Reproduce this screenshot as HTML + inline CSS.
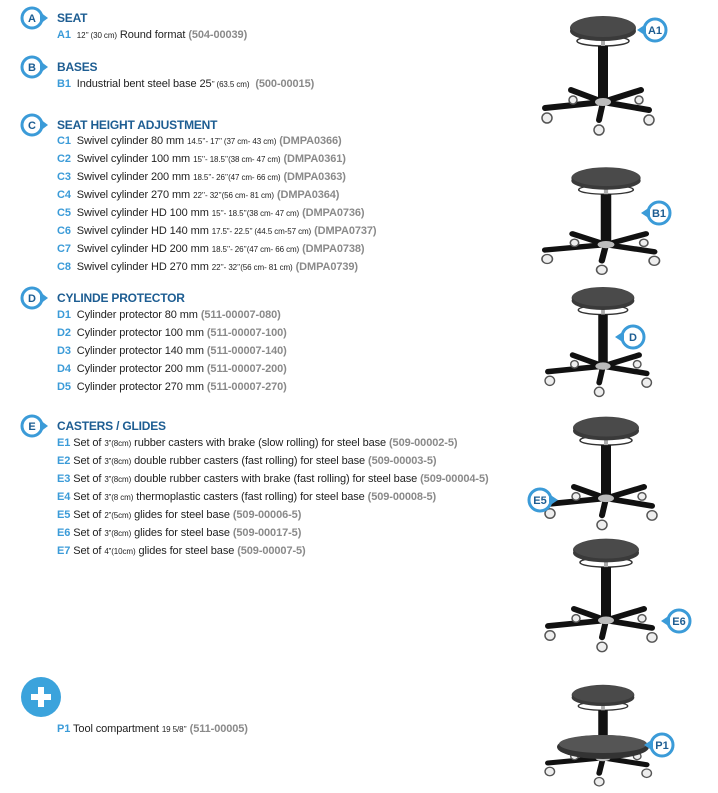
<!DOCTYPE html>
<html><head><meta charset="utf-8"><style>
body{margin:0;width:718px;height:793px;background:#fff;position:relative;overflow:hidden;font-family:"Liberation Sans",sans-serif}
.h{position:absolute;left:57px;font-weight:bold;font-size:12px;color:#1d5d92;letter-spacing:-0.2px}
.i{position:absolute;left:57px;font-size:11px;color:#222;white-space:nowrap;letter-spacing:-0.1px}
.i b{color:#3b9bd8}
.i s{text-decoration:none;font-size:8px}
.i em{font-style:normal;font-weight:bold;color:#8a8a8a}
svg{position:absolute;left:0;top:0}
</style></head><body>
<svg width="718" height="793">
<defs>
<g id="bad"><circle cx="0" cy="0" r="10" fill="#fff" stroke="#3b9bd8" stroke-width="3"/><path d="M8,-6 L16,0 L8,6Z" fill="#3b9bd8"/></g>
<g id="st">
<ellipse cx="0" cy="13" rx="26" ry="5" fill="none" stroke="#333" stroke-width="1.5"/>
<rect x="-2" y="10" width="4" height="10" fill="#aaa"/>
<rect x="-5" y="18" width="10" height="54" fill="#111"/>
<g stroke="#111" stroke-width="6" stroke-linecap="round">
<line x1="0" y1="74" x2="-58" y2="80"/><line x1="0" y1="74" x2="-32" y2="62"/>
<line x1="0" y1="74" x2="38" y2="62"/><line x1="0" y1="74" x2="46" y2="82"/>
<line x1="0" y1="74" x2="-4" y2="92"/></g>
<ellipse cx="0" cy="74" rx="8" ry="4" fill="#bbb"/>
<g fill="#eee" stroke="#555" stroke-width="1.5">
<circle cx="-56" cy="90" r="5"/><circle cx="-30" cy="72" r="4"/><circle cx="36" cy="72" r="4"/><circle cx="46" cy="92" r="5"/><circle cx="-4" cy="102" r="5"/></g>
<ellipse cx="0" cy="0" rx="33" ry="12" fill="#474747"/>
<ellipse cx="0" cy="3" rx="33" ry="10" fill="#3a3a3a"/>
<ellipse cx="0" cy="-1" rx="32" ry="10" fill="#4a4a4a"/>
</g>
</defs>
<use href="#st" transform="translate(603,28)"/>
<use href="#st" transform="translate(606,178) scale(1.05,0.9)"/>
<use href="#st" transform="translate(603,298) scale(0.95,0.92)"/>
<use href="#st" transform="translate(606,428) scale(1,0.95)"/>
<use href="#st" transform="translate(606,550) scale(1,0.95)"/>
<g transform="translate(603,695)"><use href="#st" transform="scale(0.95,0.85)"/><ellipse cx="0" cy="52" rx="46" ry="12" fill="#333"/><ellipse cx="0" cy="49" rx="44" ry="9" fill="#555"/></g>
<g font-weight="bold" font-size="11" text-anchor="middle" fill="#1d5d92">
<g transform="translate(655,30)"><circle r="11" fill="#fff" stroke="#3b9bd8" stroke-width="3"/><path d="M-9,-6 L-18,0 L-9,6Z" fill="#3b9bd8"/><text y="4">A1</text></g>
<g transform="translate(659,213)"><circle r="11" fill="#fff" stroke="#3b9bd8" stroke-width="3"/><path d="M-9,-6 L-18,0 L-9,6Z" fill="#3b9bd8"/><text y="4">B1</text></g>
<g transform="translate(633,337)"><circle r="11" fill="#fff" stroke="#3b9bd8" stroke-width="3"/><path d="M-9,-6 L-18,0 L-9,6Z" fill="#3b9bd8"/><text y="4">D</text></g>
<g transform="translate(540,500)"><circle r="11" fill="#fff" stroke="#3b9bd8" stroke-width="3"/><path d="M9,-6 L18,0 L9,6Z" fill="#3b9bd8"/><text y="4">E5</text></g>
<g transform="translate(679,621)"><circle r="11" fill="#fff" stroke="#3b9bd8" stroke-width="3"/><path d="M-9,-6 L-18,0 L-9,6Z" fill="#3b9bd8"/><text y="4">E6</text></g>
<g transform="translate(662,745)"><circle r="11" fill="#fff" stroke="#3b9bd8" stroke-width="3"/><path d="M-9,-6 L-18,0 L-9,6Z" fill="#3b9bd8"/><text y="4">P1</text></g>
</g>
<g font-weight="bold" font-size="11" text-anchor="middle" fill="#1d5d92">
<use href="#bad" x="32" y="18"/><text x="32" y="22">A</text>
<use href="#bad" x="32" y="67"/><text x="32" y="71">B</text>
<use href="#bad" x="32" y="125"/><text x="32" y="129">C</text>
<use href="#bad" x="32" y="298"/><text x="32" y="302">D</text>
<use href="#bad" x="32" y="426"/><text x="32" y="430">E</text>
</g>
<circle cx="41" cy="697" r="20" fill="#3ba3dc"/>
<rect x="31" y="694" width="20" height="6" fill="#fff"/><rect x="38" y="687" width="6" height="20" fill="#fff"/>
</svg>
<div class="h" style="top:11px">SEAT</div>
<div class="i" style="top:29px"><b>A1</b>&nbsp; <s>12’’ (30 cm)</s> Round format <em>(504-00039)</em></div>
<div class="h" style="top:60px">BASES</div>
<div class="i" style="top:78px"><b>B1</b>&nbsp; Industrial bent steel base 25<s>’’ (63.5 cm)</s>&nbsp; <em>(500-00015)</em></div>
<div class="h" style="top:118px">SEAT HEIGHT ADJUSTMENT</div>
<div class="i" style="top:135px"><b>C1</b>&nbsp; Swivel cylinder 80 mm <s>14.5’’- 17’’ (37 cm- 43 cm)</s> <em>(DMPA0366)</em></div>
<div class="i" style="top:153px"><b>C2</b>&nbsp; Swivel cylinder 100 mm <s>15’’- 18.5’’(38 cm- 47 cm)</s> <em>(DMPA0361)</em></div>
<div class="i" style="top:171px"><b>C3</b>&nbsp; Swivel cylinder 200 mm <s>18.5’’- 26’’(47 cm- 66 cm)</s> <em>(DMPA0363)</em></div>
<div class="i" style="top:189px"><b>C4</b>&nbsp; Swivel cylinder 270 mm <s>22’’- 32’’(56 cm- 81 cm)</s> <em>(DMPA0364)</em></div>
<div class="i" style="top:207px"><b>C5</b>&nbsp; Swivel cylinder HD 100 mm <s>15’’- 18.5’’(38 cm- 47 cm)</s> <em>(DMPA0736)</em></div>
<div class="i" style="top:225px"><b>C6</b>&nbsp; Swivel cylinder HD 140 mm <s>17.5”- 22.5’’ (44.5 cm-57 cm)</s> <em>(DMPA0737)</em></div>
<div class="i" style="top:243px"><b>C7</b>&nbsp; Swivel cylinder HD 200 mm <s>18.5’’- 26’’(47 cm- 66 cm)</s> <em>(DMPA0738)</em></div>
<div class="i" style="top:261px"><b>C8</b>&nbsp; Swivel cylinder HD 270 mm <s>22’’- 32’’(56 cm- 81 cm)</s> <em>(DMPA0739)</em></div>
<div class="h" style="top:291px">CYLINDE PROTECTOR</div>
<div class="i" style="top:309px"><b>D1</b>&nbsp; Cylinder protector 80 mm <em>(511-00007-080)</em></div>
<div class="i" style="top:327px"><b>D2</b>&nbsp; Cylinder protector 100 mm <em>(511-00007-100)</em></div>
<div class="i" style="top:345px"><b>D3</b>&nbsp; Cylinder protector 140 mm <em>(511-00007-140)</em></div>
<div class="i" style="top:363px"><b>D4</b>&nbsp; Cylinder protector 200 mm <em>(511-00007-200)</em></div>
<div class="i" style="top:381px"><b>D5</b>&nbsp; Cylinder protector 270 mm <em>(511-00007-270)</em></div>
<div class="h" style="top:419px">CASTERS / GLIDES</div>
<div class="i" style="top:437px"><b>E1</b> Set of <s>3”(8cm)</s> rubber casters with brake (slow rolling) for steel base <em>(509-00002-5)</em></div>
<div class="i" style="top:455px"><b>E2</b> Set of <s>3”(8cm)</s> double rubber casters (fast rolling) for steel base <em>(509-00003-5)</em></div>
<div class="i" style="top:473px"><b>E3</b> Set of <s>3”(8cm)</s> double rubber casters with brake (fast rolling) for steel base <em>(509-00004-5)</em></div>
<div class="i" style="top:491px"><b>E4</b> Set of <s>3”(8 cm)</s> thermoplastic casters (fast rolling) for steel base <em>(509-00008-5)</em></div>
<div class="i" style="top:509px"><b>E5</b> Set of <s>2”(5cm)</s> glides for steel base <em>(509-00006-5)</em></div>
<div class="i" style="top:527px"><b>E6</b> Set of <s>3”(8cm)</s> glides for steel base <em>(509-00017-5)</em></div>
<div class="i" style="top:545px"><b>E7</b> Set of <s>4”(10cm)</s> glides for steel base <em>(509-00007-5)</em></div>
<div class="i" style="top:723px"><b>P1</b> Tool compartment <s>19 5/8’’</s> <em>(511-00005)</em></div>
</body></html>
